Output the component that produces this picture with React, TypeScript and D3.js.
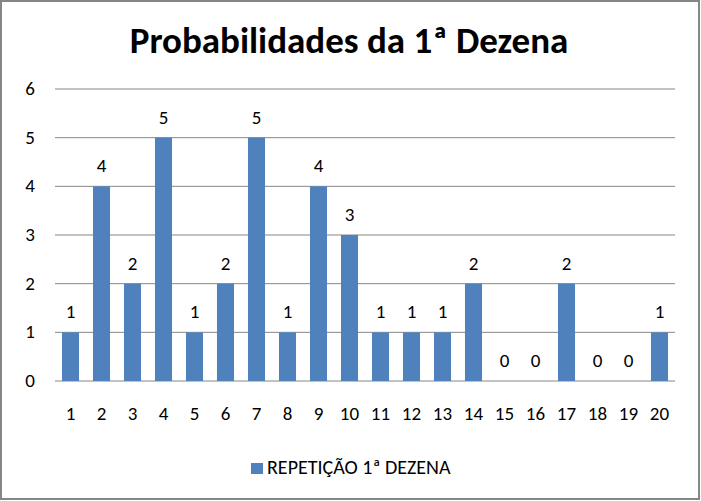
import React, { useEffect, useRef } from "react";
import * as d3 from "d3";

const categories = ["1","2","3","4","5","6","7","8","9","10","11","12","13","14","15","16","17","18","19","20"];
const values = [1, 4, 2, 5, 1, 2, 5, 1, 4, 3, 1, 1, 1, 2, 0, 0, 2, 0, 0, 1];
const yTicks = [0, 1, 2, 3, 4, 5, 6];
const seriesName = "REPETIÇÃO 1ª DEZENA";
const title = "Probabilidades da 1ª Dezena";

const App = () => {
  const ref = useRef<SVGSVGElement>(null);

  useEffect(() => {
    const W = 701, H = 501;
    const svg = d3.select(ref.current);
    svg.selectAll("*").remove();
    const font = "Carlito, Calibri, Lato, 'Open Sans', sans-serif";

    // fundo e borda
    svg.append("rect")
      .attr("x", 1).attr("y", 1).attr("width", W - 3).attr("height", H - 3)
      .attr("fill", "#fff").attr("stroke", "#868686").attr("stroke-width", 2);

    svg.append("text")
      .attr("x", 349).attr("y", 53)
      .attr("text-anchor", "middle")
      .style("font-family", font).style("font-weight", "bold").style("font-size", "37px")
      .attr("fill", "#000")
      .text(title);

    const x = d3.scaleBand().domain(categories).range([55, 675]).paddingInner(0.45).paddingOuter(0.225);
    const y = d3.scaleLinear().domain([0, 6]).range([381, 89]);

    // linhas de grade
    svg.append("g").selectAll("line").data(yTicks).join("line")
      .attr("x1", 55).attr("x2", 675)
      .attr("y1", d => y(d)).attr("y2", d => y(d))
      .attr("stroke", "#868686").attr("stroke-width", 1);

    svg.append("g").selectAll("text").data(yTicks).join("text")
      .attr("x", 35).attr("y", d => y(d) + 6)
      .attr("text-anchor", "end")
      .style("font-family", font).style("font-size", "19px")
      .text(d => d);

    svg.append("g").selectAll("rect").data(values).join("rect")
      .attr("x", (d, i) => x(categories[i])!)
      .attr("width", x.bandwidth())
      .attr("y", d => y(d))
      .attr("height", d => y(0) - y(d))
      .attr("fill", "#4F81BD");

    svg.append("g").selectAll("text").data(values).join("text")
      .attr("x", (d, i) => x(categories[i])! + x.bandwidth() / 2)
      .attr("y", d => y(d) - 14)
      .attr("text-anchor", "middle")
      .style("font-family", font).style("font-size", "19px")
      .text(d => d);

    svg.append("g").selectAll("text").data(categories).join("text")
      .attr("x", d => x(d)! + x.bandwidth() / 2)
      .attr("y", 420)
      .attr("text-anchor", "middle")
      .style("font-family", font).style("font-size", "19px")
      .text(d => d);

    // legenda
    svg.append("rect")
      .attr("x", 251).attr("y", 463).attr("width", 12).attr("height", 11)
      .attr("fill", "#4F81BD");
    svg.append("text")
      .attr("x", 267).attr("y", 474)
      .style("font-family", font).style("font-size", "20px")
      .text(seriesName);
  }, []);

  return (
    <div style={{ position: "fixed", left: 0, top: 0 }}>
      <svg ref={ref} width={701} height={501} style={{ display: "block" }}></svg>
    </div>
  );
};

export default App;
